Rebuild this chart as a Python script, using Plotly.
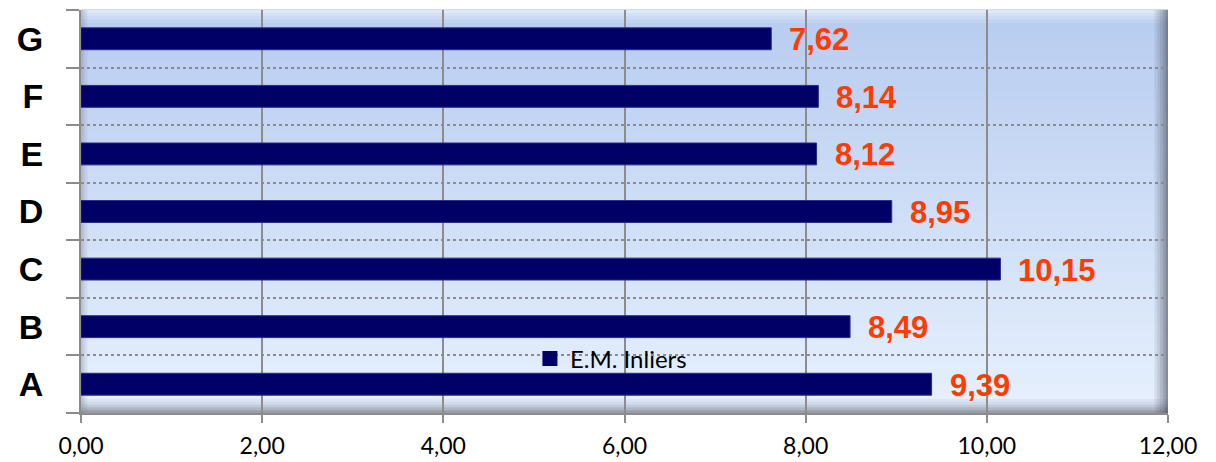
import plotly.graph_objects as go

categories = ["A", "B", "C", "D", "E", "F", "G"]
values = [9.39, 8.49, 10.15, 8.95, 8.12, 8.14, 7.62]
series_name = "E.M. Inliers"
x_ticks = [0, 2, 4, 6, 8, 10, 12]

fig = go.Figure()
fig.add_trace(go.Bar(
    y=categories, x=values, orientation="h", name=series_name,
    marker=dict(color="#000066", line=dict(color="#2a2a8a", width=1)),
    showlegend=False,
))
# legend entry with a larger square symbol
fig.add_trace(go.Scatter(
    x=[None], y=[None], mode="markers", name=series_name,
    marker=dict(symbol="square", size=15, color="#000066"),
    showlegend=True,
))

for c, v in zip(categories, values):
    fig.add_annotation(
        x=v, y=c, xref="x", yref="y", text=f"{v:.2f}".replace(".", ","),
        showarrow=False, xanchor="left", yanchor="middle", xshift=16, yshift=-1,
        font=dict(family="Liberation Sans, Arial", size=31, color="#FF3C00", weight="bold"),
    )

# gradient background
shapes = []
n = 40
top = (184, 204, 240)
bot = (230, 240, 253)
for i in range(n):
    t = i / (n - 1)
    col = tuple(int(round(bot[k] + (top[k] - bot[k]) * t)) for k in range(3))
    shapes.append(dict(type="rect", xref="paper", yref="paper",
                       x0=0, x1=1, y0=i / n, y1=(i + 1) / n + 0.002,
                       fillcolor=f"rgb{col}", line=dict(width=0), layer="below"))
# bevel: top highlight
for i, a in enumerate([0.55, 0.4, 0.25, 0.12]):
    shapes.append(dict(type="rect", xref="paper", yref="paper", x0=0, x1=1,
                       y0=1 - (i + 1) * 0.008, y1=1 - i * 0.008,
                       fillcolor=f"rgba(255,255,255,{a})", line=dict(width=0), layer="below"))
# bevel right (dark)
for i, a in enumerate([0.6, 0.45, 0.32, 0.2, 0.1]):
    shapes.append(dict(type="rect", xref="paper", yref="paper",
                       x0=1 - (i + 1) * 0.0025, x1=1 - i * 0.0025, y0=0, y1=1,
                       fillcolor=f"rgba(70,75,90,{a})", line=dict(width=0), layer="below"))
# bevel bottom (dark)
for i, a in enumerate([0.5, 0.35, 0.22, 0.12, 0.06]):
    shapes.append(dict(type="rect", xref="paper", yref="paper",
                       x0=0, x1=1, y0=i * 0.007, y1=(i + 1) * 0.007,
                       fillcolor=f"rgba(70,75,90,{a})", line=dict(width=0), layer="below"))
# bevel left
for i, a in enumerate([0.35, 0.2, 0.1]):
    shapes.append(dict(type="rect", xref="paper", yref="paper",
                       x0=i * 0.002, x1=(i + 1) * 0.002, y0=0, y1=1,
                       fillcolor=f"rgba(120,125,140,{a})", line=dict(width=0), layer="below"))

fig.update_layout(
    width=1216, height=462,
    margin=dict(l=81, r=48, t=10, b=49),
    paper_bgcolor="white", plot_bgcolor="rgba(0,0,0,0)",
    separators=",.",
    bargap=0.62,
    shapes=shapes,
    showlegend=True,
    legend=dict(x=0.413, y=0.134, xanchor="left", yanchor="middle",
                bgcolor="rgba(0,0,0,0)",
                font=dict(family="Lato, Carlito, Calibri", size=24, color="black"),
                itemwidth=30),
    xaxis=dict(range=[0, 12], tickvals=x_ticks, tickformat=".2f",
               showgrid=True, gridcolor="#8c8c8c", gridwidth=1.5,
               showline=True, linecolor="#8c8c8c", linewidth=2,
               ticks="outside", ticklen=8, tickcolor="#8c8c8c", tickwidth=1.5,
               tickfont=dict(family="Lato, Carlito, Calibri", size=23, color="black"),
               ticklabelstandoff=3, zeroline=False, automargin=False),
    yaxis=dict(categoryorder="array", categoryarray=categories,
               tickson="boundaries", showgrid=True, gridcolor="#8c8c8c",
               griddash="dot", gridwidth=1.5,
               showline=True, linecolor="#8c8c8c", linewidth=2,
               ticks="outside", ticklen=13, tickcolor="#8c8c8c", tickwidth=1.5,
               tickfont=dict(family="Liberation Sans, Arial", size=34, color="black", weight="bold"),
               ticklabelstandoff=29, automargin=False),
)

fig.write_html("out.html")
